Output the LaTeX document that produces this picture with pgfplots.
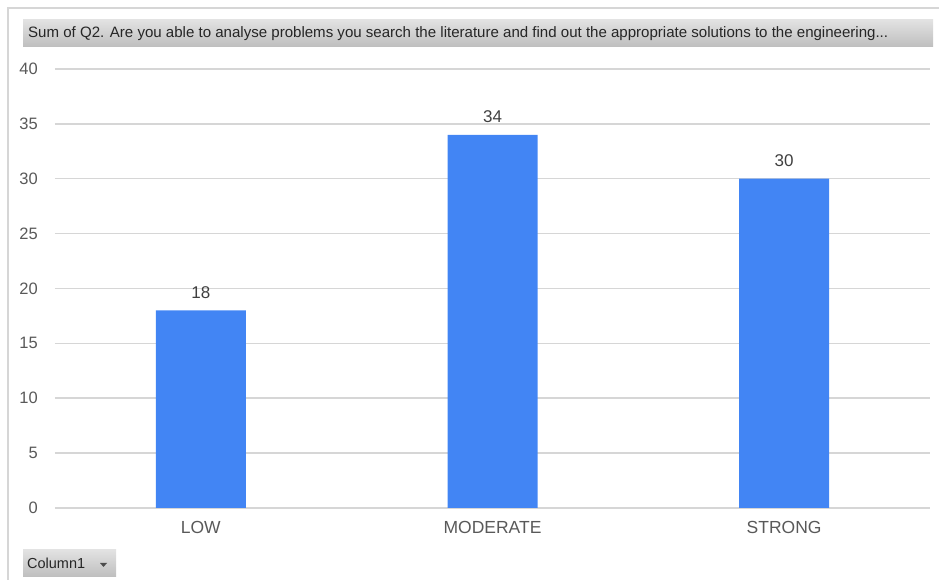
\documentclass[border=0pt]{standalone}
\usepackage{pgfplots}
\pgfplotsset{compat=1.18}
\usepackage{fontspec}
\setmainfont{Liberation Sans}

\definecolor{barblue}{RGB}{66,133,244}
\definecolor{gridgray}{RGB}{214,214,214}
\definecolor{ticktext}{RGB}{89,89,89}
\definecolor{labeltext}{RGB}{64,64,64}
\definecolor{btntop}{RGB}{226,226,226}
\definecolor{btnbot}{RGB}{190,190,190}

\begin{document}
\begin{tikzpicture}
  \path[use as bounding box] (0bp,0bp) rectangle (939bp,580bp);
  % chart frame (left and top edges only)
  \draw[gridgray, line width=2bp] (8bp,0bp) -- (8bp,572bp) -- (939bp,572bp);

  % field button with the title
  \shade[top color=btntop, bottom color=btnbot] (23bp,533bp) rectangle (933bp,560bp);
  \node[anchor=west, inner sep=0pt, text=black!85] at (28bp,546.5bp)
    {\resizebox{860bp}{!}{Sum of Q2. Are you able to analyse problems you search the literature and find out the appropriate solutions to the engineering...}};

  % Column1 filter button
  \shade[top color=btntop, bottom color=btnbot] (23bp,3bp) rectangle (116bp,30bp);
  \node[anchor=west, inner sep=0pt, text=black!85] at (27bp,16.5bp)
    {\resizebox{58bp}{!}{Column1}};
  \fill[black!70] (100bp,17bp) -- (107bp,17bp) -- (103.5bp,13bp) -- cycle;

  \begin{axis}[
      at={(55bp,72bp)}, anchor=south west,
      scale only axis,
      width=875bp, height=439bp,
      xmin=-0.5, xmax=2.5,
      ymin=0, ymax=40,
      ybar, bar width=90bp,
      xtick={0,1,2},
      xticklabels={LOW,MODERATE,STRONG},
      ytick={0,5,...,40},
      ymajorgrids,
      grid style={gridgray, line width=1.5bp},
      axis line style={draw=none},
      major tick length=0pt,
      /pgf/number format/assume math mode=true,
      yticklabel style={font=\fontsize{16.5bp}{18bp}\selectfont, text=ticktext,
        anchor=east, inner sep=0pt, xshift=-17bp},
      xticklabel style={font=\fontsize{17.5bp}{19bp}\selectfont, text=ticktext,
        anchor=north, inner sep=0pt, yshift=-13bp},
      nodes near coords,
      every node near coord/.append style={font=\fontsize{17bp}{19bp}\selectfont,
        text=labeltext, anchor=south, inner sep=0pt, yshift=11.5bp},
    ]
    \addplot[fill=barblue, draw=none] coordinates {(0,18) (1,34) (2,30)};
  \end{axis}
\end{tikzpicture}
\end{document}
